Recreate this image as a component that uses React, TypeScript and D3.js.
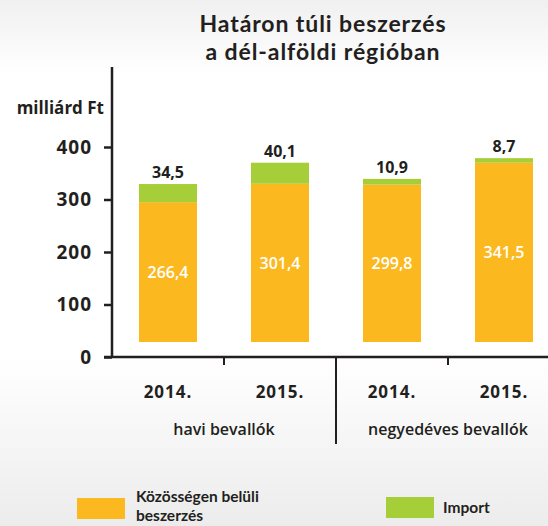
import * as d3 from "d3";
import { useEffect, useRef } from "react";

const categories = ["2014.", "2015.", "2014.", "2015."];
const groups = ["havi bevallók", "negyedéves bevallók"];
const intraEU = [266.4, 301.4, 299.8, 341.5];
const imports = [34.5, 40.1, 10.9, 8.7];
const yTicks = [0, 100, 200, 300, 400];
const seriesNames = ["Közösségen belüli beszerzés", "Import"];
const colors = ["#fbb91f", "#a6ce39"];

const W = 548;
const H = 526;
const ink = "#231f20";
const font = "'Open Sans', 'DejaVu Sans', sans-serif";
const fontTight = "Lato, 'Open Sans', sans-serif";

export default function App() {
  const ref = useRef<SVGSVGElement>(null);

  useEffect(() => {
    if (!ref.current) return;
    const svg = d3.select(ref.current);
    svg.selectAll("*").remove();

    const margin = { top: 67, left: 112, bottom: 357, right: 560 };
    const hu = d3.formatLocale({
      decimal: ",",
      thousands: " ",
      grouping: [3],
      currency: ["", " Ft"],
    });
    const fmt = hu.format(".1f");

    // háttér
    const defs = svg.append("defs");
    const grad = defs
      .append("linearGradient")
      .attr("id", "bg")
      .attr("x1", 0)
      .attr("x2", 0)
      .attr("y1", 0)
      .attr("y2", 1);
    grad.append("stop").attr("offset", "0%").attr("stop-color", "#f0f0f0");
    grad.append("stop").attr("offset", "14%").attr("stop-color", "#ffffff");
    grad.append("stop").attr("offset", "68%").attr("stop-color", "#ffffff");
    grad.append("stop").attr("offset", "100%").attr("stop-color", "#ececec");
    svg.append("rect").attr("width", W).attr("height", H).attr("fill", "url(#bg)");

    const x = d3
      .scaleBand<number>()
      .domain(categories.map((_, i) => i))
      .range([margin.left, margin.right])
      .paddingInner(0)
      .paddingOuter(0);
    const y = d3.scaleLinear().domain([0, 400]).range([margin.bottom, 147]);
    const barW = 58;
    const lift = 15; // oszlopok kicsit a tengely fölött

    // cím
    ["Határon túli beszerzés", "a dél-alföldi régióban"].forEach((t, i) => {
      svg
        .append("text")
        .attr("x", 323)
        .attr("y", 32 + i * 28)
        .attr("text-anchor", "middle")
        .attr("font-family", fontTight)
        .attr("font-weight", 700)
        .attr("font-size", 23)
        .attr("letter-spacing", 0.9)
        .attr("fill", ink)
        .text(t);
    });

    svg
      .append("text")
      .attr("x", 104)
      .attr("y", 114)
      .attr("text-anchor", "end")
      .attr("font-family", font)
      .attr("font-weight", 700)
      .attr("font-size", 17)
      .attr("fill", ink)
      .text("milliárd Ft");

    // oszlopok
    const base = y(0) - lift;
    const bars = svg.append("g");
    categories.forEach((_, i) => {
      const cx = x(i)! + x.bandwidth() / 2;
      const hA = y(0) - y(intraEU[i]);
      const hB = y(0) - y(imports[i]);
      bars
        .append("rect")
        .attr("x", cx - barW / 2)
        .attr("y", base - hA)
        .attr("width", barW)
        .attr("height", hA)
        .attr("fill", colors[0]);
      bars
        .append("rect")
        .attr("x", cx - barW / 2)
        .attr("y", base - hA - hB)
        .attr("width", barW)
        .attr("height", hB)
        .attr("fill", colors[1]);
      bars
        .append("text")
        .attr("x", cx)
        .attr("y", base - hA / 2 + 6)
        .attr("text-anchor", "middle")
        .attr("font-family", font)
        .attr("font-weight", 600)
        .attr("font-size", 16)
        .attr("fill", "#ffffff")
        .text(fmt(intraEU[i]));
      bars
        .append("text")
        .attr("x", cx)
        .attr("y", base - hA - hB - 6)
        .attr("text-anchor", "middle")
        .attr("font-family", font)
        .attr("font-weight", 700)
        .attr("font-size", 16)
        .attr("fill", ink)
        .text(fmt(imports[i]));
    });

    // Y tengely
    const yAxis = svg
      .append("g")
      .attr("transform", `translate(${margin.left},0)`)
      .call(d3.axisLeft(y).tickValues(yTicks).tickSize(8).tickPadding(12).tickFormat(d3.format("d")));
    yAxis.select(".domain").remove();
    yAxis.selectAll(".tick line").attr("stroke", ink).attr("stroke-width", 2.5);
    yAxis
      .selectAll(".tick text")
      .attr("font-family", font)
      .attr("font-weight", 700)
      .attr("font-size", 19)
      .attr("letter-spacing", 1)
      .attr("fill", ink);
    svg
      .append("line")
      .attr("x1", margin.left)
      .attr("x2", margin.left)
      .attr("y1", margin.top)
      .attr("y2", y(0) + 1)
      .attr("stroke", ink)
      .attr("stroke-width", 2.5);

    // X tengely
    svg
      .append("line")
      .attr("x1", margin.left - 8)
      .attr("x2", W)
      .attr("y1", y(0))
      .attr("y2", y(0))
      .attr("stroke", ink)
      .attr("stroke-width", 2.5);
    categories.forEach((c, i) => {
      const x0 = x(i)!;
      const sep = i === 2;
      if (i > 0) {
        svg
          .append("line")
          .attr("x1", x0)
          .attr("x2", x0)
          .attr("y1", y(0))
          .attr("y2", sep ? 444 : y(0) + 8)
          .attr("stroke", ink)
          .attr("stroke-width", 2);
      }
      svg
        .append("text")
        .attr("x", x0 + x.bandwidth() / 2)
        .attr("y", 398)
        .attr("text-anchor", "middle")
        .attr("font-family", font)
        .attr("font-weight", 700)
        .attr("font-size", 17)
        .attr("letter-spacing", 1)
        .attr("fill", ink)
        .text(c);
    });
    groups.forEach((g, gi) => {
      const x0 = x(gi * 2)!;
      const x1 = x(gi * 2 + 1)! + x.bandwidth();
      svg
        .append("text")
        .attr("x", (x0 + x1) / 2)
        .attr("y", 435)
        .attr("text-anchor", "middle")
        .attr("font-family", font)
        .attr("font-weight", 600)
        .attr("font-size", 16)
        .attr("fill", ink)
        .text(g);
    });

    // jelmagyarázat
    const legend = svg
      .append("g")
      .attr("font-family", fontTight)
      .attr("font-weight", 700)
      .attr("font-size", 15.5)
      .attr("fill", ink);
    legend.append("rect").attr("x", 77).attr("y", 498).attr("width", 48).attr("height", 21).attr("fill", colors[0]);
    legend.append("text").attr("x", 136).attr("y", 502).text("Közösségen belüli");
    legend.append("text").attr("x", 136).attr("y", 521).text("beszerzés");
    legend.append("rect").attr("x", 386).attr("y", 497).attr("width", 48).attr("height", 21).attr("fill", colors[1]);
    legend.append("text").attr("x", 443).attr("y", 513).text(seriesNames[1]);
  }, []);

  return (
    <svg
      ref={ref}
      width={W}
      height={H}
      style={{ position: "fixed", left: 0, top: 0, display: "block" }}
    ></svg>
  );
}
